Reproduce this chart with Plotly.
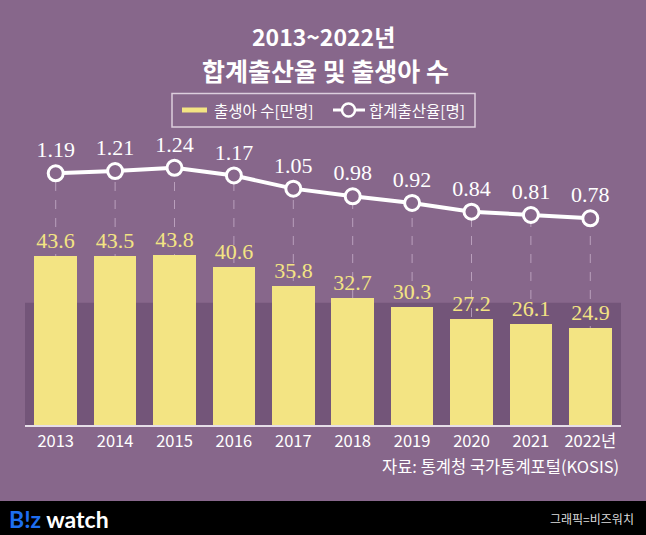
import plotly.graph_objects as go

# ---- data ----
years = ["2013", "2014", "2015", "2016", "2017", "2018", "2019", "2020", "2021", "2022년"]
births = [43.6, 43.5, 43.8, 40.6, 35.8, 32.7, 30.3, 27.2, 26.1, 24.9]   # 출생아 수 [만명]
tfr = [1.19, 1.21, 1.24, 1.17, 1.05, 0.98, 0.92, 0.84, 0.81, 0.78]      # 합계출산율 [명]
title1 = "2013~2022년"
title2 = "합계출산율 및 출생아 수"
legend_bar = "출생아 수[만명]"
legend_line = "합계출산율[명]"
source = "자료: 통계청 국가통계포털(KOSIS)"
credit = "그래픽=비즈워치"

# ---- style ----
BG = "#87678B"
BAND = "#735579"
BAR = "#F3E483"
KR = "Noto Sans CJK KR"
SERIF = "Liberation Serif"
W, H = 646, 535
L, R, T, B = 25, 25, 130, 110
PW, PH = W - L - R, H - T - B
Y1 = [0, 75.97]
Y2 = [-1.102, 1.584]


def px(xp):
    return (xp - L) / PW


def py(yp):
    return (H - B - yp) / PH


fig = go.Figure()

fig.add_trace(go.Bar(
    x=years, y=births, yaxis="y", width=0.715,
    marker=dict(color=BAR, line=dict(width=0)),
    texttemplate="%{y:.1f}", textposition="outside", cliponaxis=False,
    textfont=dict(family=SERIF, size=22, color=BAR),
    showlegend=False, hoverinfo="skip",
))

fig.add_trace(go.Scatter(
    x=years, y=tfr, yaxis="y2", mode="lines+markers+text",
    line=dict(color="white", width=4),
    marker=dict(size=15, color=BG, line=dict(color="white", width=3)),
    texttemplate="%{y:.2f}", textposition="top center", cliponaxis=False,
    textfont=dict(family=SERIF, size=22, color="white"),
    showlegend=False, hoverinfo="skip",
))

shapes = [
    dict(type="rect", xref="paper", yref="y", x0=0, x1=1, y0=0, y1=31.5,
         fillcolor=BAND, line=dict(width=0), layer="below"),
]
for i, v in enumerate(tfr):
    shapes.append(dict(type="line", xref="x", yref="y2", x0=i, x1=i, y0=Y2[0], y1=v,
                       line=dict(color="rgba(225,205,230,0.55)", width=1, dash="dash"),
                       layer="below"))
# black footer strip
shapes.append(dict(type="rect", xref="paper", yref="paper", x0=px(-2), x1=px(W + 2),
                   y0=py(H + 2), y1=py(501), fillcolor="black", line=dict(width=0)))
# legend box
shapes.append(dict(type="rect", xref="paper", yref="paper", x0=px(172), x1=px(475),
                   y0=py(127), y1=py(93.5), fillcolor="rgba(0,0,0,0)",
                   line=dict(color="rgba(235,225,235,0.85)", width=1.5)))
shapes.append(dict(type="rect", xref="paper", yref="paper", x0=px(182), x1=px(207),
                   y0=py(112.5), y1=py(107.5), fillcolor=BAR, line=dict(width=0)))
shapes.append(dict(type="line", xref="paper", yref="paper", x0=px(333), x1=px(365),
                   y0=py(110), y1=py(110), line=dict(color="white", width=3)))
shapes.append(dict(type="circle", xref="paper", yref="paper", x0=px(342), x1=px(355),
                   y0=py(116.5), y1=py(103.5), fillcolor=BG,
                   line=dict(color="white", width=2.5)))

annotations = [
    dict(text="<b>" + title1 + "</b>", xref="paper", yref="paper", x=px(323), y=py(36),
         showarrow=False, font=dict(family=KR, size=23, color="white"),
         xanchor="center", yanchor="middle"),
    dict(text="<b>" + title2 + "</b>", xref="paper", yref="paper", x=px(325), y=py(70.5),
         showarrow=False, font=dict(family=KR, size=25, color="white"),
         xanchor="center", yanchor="middle"),
    dict(text=legend_bar, xref="paper", yref="paper", x=px(212), y=py(110),
         showarrow=False, font=dict(family=KR, size=15.5, color="white"),
         xanchor="left", yanchor="middle"),
    dict(text=legend_line, xref="paper", yref="paper", x=px(367), y=py(110),
         showarrow=False, font=dict(family=KR, size=15.5, color="white"),
         xanchor="left", yanchor="middle"),
    dict(text=source, xref="paper", yref="paper", x=px(621), y=py(466),
         showarrow=False, font=dict(family=KR, size=16.5, color="white"),
         xanchor="right", yanchor="middle"),
    dict(text="<b><span style='color:#1E6EF0'>B!z</span> watch</b>", xref="paper", yref="paper",
         x=px(7), y=py(519), showarrow=False,
         font=dict(family="Lato", size=23, color="white"),
         xanchor="left", yanchor="middle"),
    dict(text=credit, xref="paper", yref="paper", x=px(636), y=py(518),
         showarrow=False, font=dict(family=KR, size=12, color="#DDDDDD"),
         xanchor="right", yanchor="middle"),
]

fig.update_layout(
    width=W, height=H, autosize=False,
    margin=dict(l=L, r=R, t=T, b=B, pad=0),
    paper_bgcolor=BG, plot_bgcolor="rgba(0,0,0,0)",
    bargap=0,
    xaxis=dict(type="category", range=[-0.517, 9.517], showgrid=False, zeroline=False,
               showline=True, linecolor="#E6DEE8", linewidth=2, ticks="",
               tickfont=dict(family=KR, size=16.5, color="white"), fixedrange=True),
    yaxis=dict(range=Y1, visible=False, showgrid=False, zeroline=False, fixedrange=True),
    yaxis2=dict(range=Y2, overlaying="y", side="right", visible=False, showgrid=False,
                zeroline=False, fixedrange=True),
    shapes=shapes, annotations=annotations,
    showlegend=False,
)

fig.write_html("out.html", config={"displayModeBar": False},
               post_script="document.body.style.margin='0';document.body.style.overflow='hidden';")
